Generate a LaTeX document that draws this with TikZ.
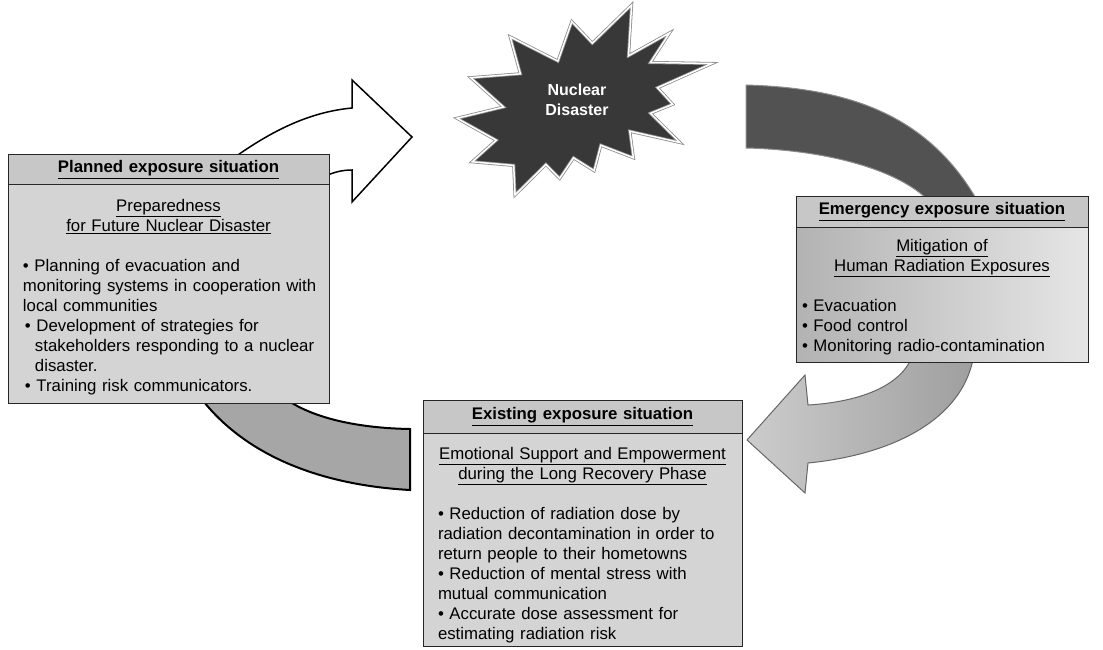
\documentclass[tikz,border=0pt]{standalone}
\usepackage{fontspec}
\setmainfont{Liberation Sans}
\usetikzlibrary{positioning}

\begin{document}
\begin{tikzpicture}[x=1pt,y=-1pt,
  headbox/.style={draw=black!85, line width=1pt, fill=black!22, outer sep=0pt, inner ysep=0pt, align=center, font=\fontsize{16.8pt}{20pt}\selectfont\bfseries},
  bodybox/.style={draw=black!85, line width=1pt, fill=black!17, outer sep=0pt, inner ysep=0pt, font=\fontsize{16.8pt}{20pt}\selectfont},
  whitearrow/.style={draw=black, line width=1.5pt, fill=white, line join=miter},
  darkarrow/.style={draw=black!45, line width=1pt, fill=black!68},
  lightarrow/.style={draw=black!60, line width=1pt, left color=black!20, right color=black!38},
  greyarrow/.style={draw=black, line width=2pt, fill=black!35},
  blast/.style={draw=black!45, double=white, double distance=1.5pt, line width=0.8pt, fill=black!78}]
\useasboundingbox (0,0) rectangle (1103,650);

\draw[whitearrow] (220,168) .. controls (270,130) and (310,112) .. (352,108) -- (352,80) -- (412,137) -- (352,202) -- (352,170) .. controls (342,170) and (334,172) .. (320,178) -- (220,185) -- cycle;
\draw[darkarrow] (746,85) .. controls (850,88) and (935,115) .. (985,215) -- (940,215) .. controls (915,172) and (830,150) .. (746,148) -- cycle;
\draw[lightarrow] (975,345) .. controls (970,420) and (890,455) .. (808,463) -- (805,493) -- (747,440) -- (805,375) -- (808,405) .. controls (860,402) and (910,385) .. (915,345) -- cycle;
\draw[greyarrow] (195,390) .. controls (240,455) and (320,485) .. (410,490) -- (410,429) .. controls (350,428) and (300,415) .. (275,390) -- cycle;

\draw[blast] (592.3,43.2) -- (631.6,5) -- (628.5,55.8) -- (669.6,32.9) -- (650.4,62.5) -- (712,63.5) -- (657.5,87.7) -- (672.7,104.3) -- (650.4,113.3) -- (679.9,142.5) -- (629.8,131.2) -- (633.4,157.8) -- (600.8,145.2) -- (594.1,170.7) -- (573.5,157.8) -- (559.7,178.4) -- (545.9,164.4) -- (515,195) -- (513.7,165.4) -- (472.2,161.8) -- (496.3,140.2) -- (457,118.3) -- (503.5,107) -- (470.8,77.7) -- (520.4,73.8) -- (510.2,36.9) -- (557.9,61.1) -- (571.8,21.6) -- cycle;
\node[text=white, align=center, font=\fontsize{16pt}{20pt}\selectfont\bfseries] (disaster) at (577,100) {Nuclear\\Disaster};

\node[headbox, text width=305pt, inner xsep=8pt, minimum height=29pt, anchor=north west] (planhead) at (8,155) {\underline{Planned exposure situation}};
\node[bodybox, text width=305pt, inner xsep=8pt, minimum height=219pt, below=0pt of planhead] (planbody) {\raggedright\leftskip=7pt
{\centering\rule{0pt}{20pt}\underline{Preparedness}\\\underline{for Future Nuclear Disaster}\par}
\vspace{20pt}
• Planning of evacuation and\\
monitoring systems in cooperation with\\
local communities\\
\hspace*{2pt}• Development of strategies for\\
\hspace*{12pt}stakeholders responding to a nuclear\\
\hspace*{12pt}disaster.\\
\hspace*{2pt}• Training risk communicators.\par};

\node[headbox, text width=280pt, inner xsep=6pt, minimum height=31pt, anchor=north west] (emerhead) at (796,196) {\underline{Emergency exposure situation}};
\node[bodybox, left color=black!30, right color=black!10, text width=280pt, inner xsep=6pt, minimum height=135pt, below=0pt of emerhead] (emerbody) {\raggedright
{\centering\rule{0pt}{18pt}\underline{Mitigation of}\\\underline{Human Radiation Exposures}\par}
\vspace{20pt}
• Evacuation\\
• Food control\\
• Monitoring radio-contamination\par};

\node[headbox, text width=303pt, inner xsep=8pt, minimum height=33pt, anchor=north west] (existhead) at (423,400) {\underline{Existing exposure situation}};
\node[bodybox, text width=303pt, inner xsep=8pt, minimum height=213pt, below=0pt of existhead] (existbody) {\raggedright\leftskip=7pt
{\centering\rule{0pt}{23pt}\underline{Emotional Support and Empowerment}\\\underline{during the Long Recovery Phase}\par}
\vspace{20pt}
• Reduction of radiation dose by\\
radiation decontamination in order to\\
return people to their hometowns\\
• Reduction of mental stress with\\
mutual communication\\
• Accurate dose assessment for\\
estimating radiation risk\par};
\end{tikzpicture}
\end{document}
